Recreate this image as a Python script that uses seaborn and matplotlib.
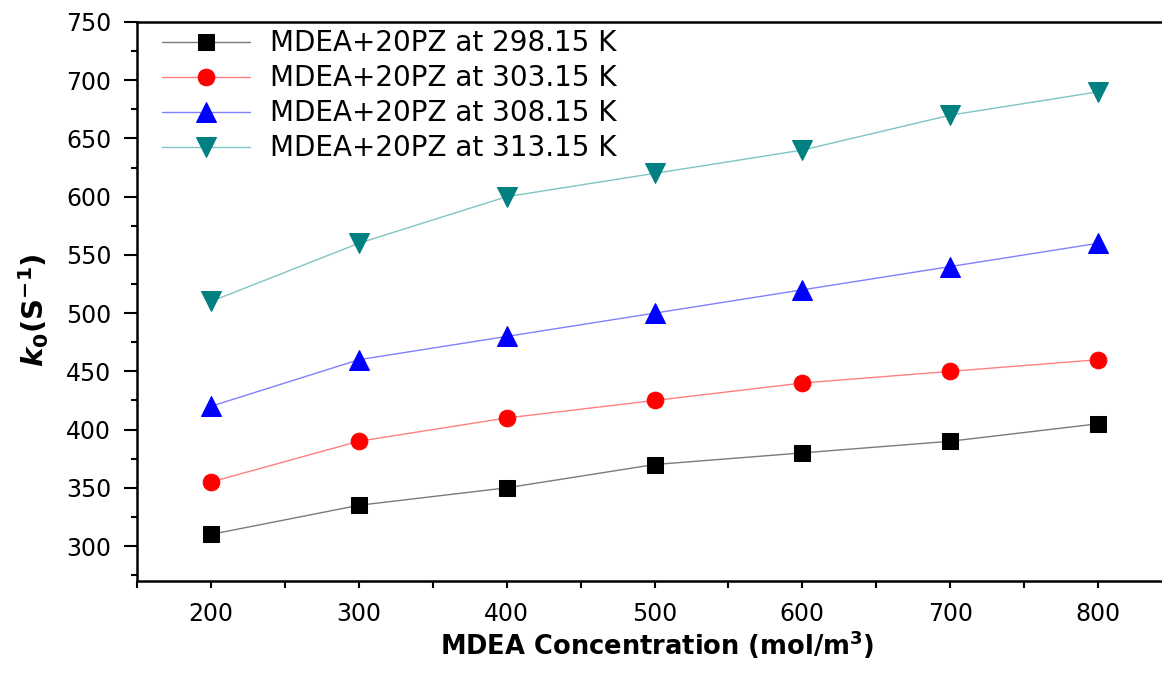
import matplotlib
matplotlib.use("Agg")
import matplotlib.pyplot as plt
import seaborn as sns
import pandas as pd
from matplotlib.ticker import MultipleLocator

conc = [200, 300, 400, 500, 600, 700, 800]
k_29815 = [310, 335, 350, 370, 380, 390, 405]
k_30315 = [355, 390, 410, 425, 440, 450, 460]
k_30815 = [420, 460, 480, 500, 520, 540, 560]
k_31315 = [510, 560, 600, 620, 640, 670, 690]
labels = ["MDEA+20PZ at 298.15 K", "MDEA+20PZ at 303.15 K",
          "MDEA+20PZ at 308.15 K", "MDEA+20PZ at 313.15 K"]
xticks = [200, 300, 400, 500, 600, 700, 800]
yticks = [300, 350, 400, 450, 500, 550, 600, 650, 700, 750]

sns.set_theme(style="white")
plt.rcParams['font.family'] = ['DejaVu Sans']
plt.rcParams['text.color'] = 'black'
plt.rcParams['axes.labelcolor'] = 'black'
plt.rcParams['xtick.color'] = 'black'
plt.rcParams['ytick.color'] = 'black'
plt.rcParams['mathtext.fontset'] = 'custom'
plt.rcParams['mathtext.rm'] = 'DejaVu Sans:bold'
plt.rcParams['mathtext.it'] = 'DejaVu Sans:italic:bold'
plt.rcParams['mathtext.bf'] = 'DejaVu Sans:bold'

fig = plt.figure(figsize=(11.62, 6.75), dpi=100)
ax = fig.add_axes([137/1162, 1 - 581/675, 1035/1162, (581 - 22)/675])

styles = [
    (k_29815, "#000000", "#7a7a7a", "s", 11),
    (k_30315, "#ff0000", "#ff8080", "o", 12),
    (k_30815, "#0000ff", "#8080ff", "^", 14),
    (k_31315, "#008080", "#80c4c4", "v", 14),
]
for (vals, mc, lc, mk, ms), lab in zip(styles, labels):
    df = pd.DataFrame({"x": conc, "y": vals})
    sns.lineplot(data=df, x="x", y="y", ax=ax, color=lc, linewidth=1.0,
                 marker=mk, markersize=ms, markerfacecolor=mc,
                 markeredgecolor=mc, label=lab)

ax.set_xlim(150, 850)
ax.set_ylim(270, 750)
ax.xaxis.set_minor_locator(MultipleLocator(50))
ax.yaxis.set_minor_locator(MultipleLocator(25))
ax.set_xticks(xticks)
ax.set_xticklabels([str(v) for v in xticks])
ax.set_yticks(yticks)
ax.set_yticklabels([str(v) for v in yticks])

ax.tick_params(axis='both', which='both', direction='out', width=1.5,
               bottom=True, left=True, top=False, right=False, colors='black')
ax.tick_params(axis='both', which='major', labelsize=17)
ax.tick_params(axis='x', which='both', length=5, pad=10)
ax.tick_params(axis='y', which='major', length=9.5, pad=9.0)
ax.tick_params(axis='y', which='minor', length=4.5)

for side in ['left', 'bottom', 'top']:
    ax.spines[side].set_linewidth(1.8)
    ax.spines[side].set_color('black')
ax.spines['right'].set_visible(False)

ax.set_xlabel("MDEA Concentration (mol/m$^{3}$)", fontsize=18.5,
              fontweight='bold', color='black')
ax.xaxis.set_label_coords((657 - 137) / 1035, (581 - 645) / 559)
ax.xaxis.label.set_va('center')

ax.set_ylabel("$k_{0}$(S$^{-1}$)", fontsize=21, fontweight='bold',
              color='black')
ax.yaxis.set_label_coords((34 - 137) / 1035, (581 - 310) / 559)
ax.yaxis.label.set_va('center')

leg = ax.legend(loc='upper left', frameon=False, fontsize=20,
                bbox_to_anchor=(17 / 1035, 1.0),
                handlelength=3.2, handletextpad=0.72, labelspacing=0.25,
                borderpad=0.05, borderaxespad=0.22)
for t in leg.get_texts():
    t.set_color('black')

fig.savefig("out.png", dpi=100)
